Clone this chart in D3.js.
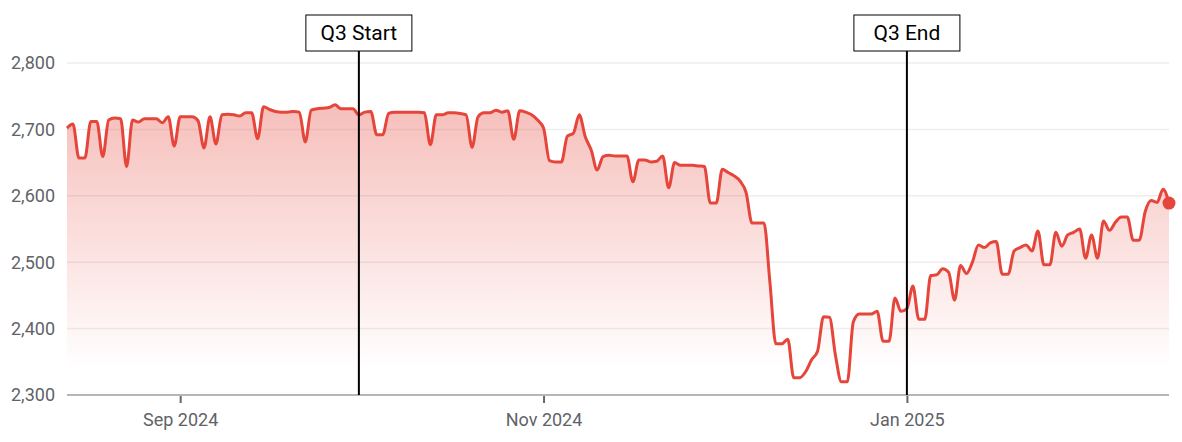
<!DOCTYPE html>
<html>
<head>
<meta charset="utf-8">
<script src="https://cdn.jsdelivr.net/npm/d3@7"></script>
<style>
  html, body { margin: 0; padding: 0; background: #fff; }
  svg { display: block; font-family: Roboto, "Noto Sans", sans-serif; }
</style>
</head>
<body>
<div id="chart"></div>
<script>
// daily series, first day and values
const startDay = "2024-08-13";
const values = [
  2702, 2708, 2657, 2657, 2712, 2712, 2659, 2714, 2717, 2716,
  2644, 2714, 2711, 2716, 2716, 2716, 2710, 2719, 2675, 2719,
  2719, 2719, 2713, 2672, 2719, 2678, 2722, 2723, 2722, 2720,
  2725, 2725, 2686, 2734, 2730, 2727, 2726, 2726, 2727, 2726,
  2681, 2729, 2731, 2732, 2733, 2737, 2731, 2731, 2731, 2722,
  2726, 2727, 2692, 2692, 2724, 2726, 2726, 2726, 2726, 2726,
  2725, 2677, 2722, 2722, 2725, 2725, 2724, 2722, 2673, 2719,
  2725, 2725, 2729, 2726, 2728, 2685, 2728, 2726, 2722, 2714,
  2702, 2653, 2651, 2651, 2690, 2694, 2722, 2689, 2669, 2639,
  2659, 2661, 2660, 2660, 2660, 2621, 2654, 2654, 2651, 2652,
  2660, 2612, 2650, 2646, 2646, 2646, 2645, 2644, 2589, 2589,
  2640, 2635, 2630, 2622, 2605, 2559, 2559, 2559, 2470, 2377,
  2377, 2384, 2326, 2326, 2335, 2353, 2366, 2418, 2417, 2360,
  2320, 2320, 2410, 2422, 2422, 2422, 2426, 2381, 2381, 2446,
  2426, 2430, 2464, 2414, 2414, 2480, 2481, 2490, 2485, 2443,
  2495, 2483, 2500, 2526, 2522, 2529, 2531, 2482, 2482, 2517,
  2522, 2526, 2517, 2547, 2496, 2496, 2545, 2524, 2541, 2545,
  2550, 2506, 2541, 2506, 2562, 2548, 2560, 2568, 2568, 2533,
  2533, 2576, 2593, 2590, 2610, 2589
];
const yTicks = [2300, 2400, 2500, 2600, 2700, 2800];
const xTicks = ["2024-09-01", "2024-11-01", "2025-01-01"];
const markers = [
  { label: "Q3 Start", date: "2024-10-01" },
  { label: "Q3 End", date: "2025-01-01" }
];

const W = 1182, H = 442;
const margin = { top: 63, right: 13, bottom: 47, left: 67 };
const RED = "#e5453a";

const parse = d3.timeParse("%Y-%m-%d");
const day0 = parse(startDay);
const data = values.map(function(v, i) {
  return { date: d3.timeDay.offset(day0, i), value: v };
});

const svg = d3.select("#chart").append("svg")
  .attr("width", W).attr("height", H);

const x = d3.scaleTime()
  .domain(d3.extent(data, d => d.date))
  .range([margin.left, W - margin.right]);
const y = d3.scaleLinear()
  .domain([2300, 2800])
  .range([H - margin.bottom, margin.top]);

// gradient for the area, fades out a bit above the baseline
const defs = svg.append("defs");
const grad = defs.append("linearGradient")
  .attr("id", "areaFill")
  .attr("gradientUnits", "userSpaceOnUse")
  .attr("x1", 0).attr("x2", 0)
  .attr("y1", y(2800)).attr("y2", y(2340));
grad.append("stop").attr("offset", "0%").attr("stop-color", RED).attr("stop-opacity", 0.4);
grad.append("stop").attr("offset", "100%").attr("stop-color", RED).attr("stop-opacity", 0);

// gridlines
svg.append("g").selectAll("line")
  .data(yTicks.filter(t => t > 2300))
  .enter().append("line")
  .attr("x1", margin.left).attr("x2", W - margin.right)
  .attr("y1", d => y(d)).attr("y2", d => y(d))
  .attr("stroke", "#eeeeee").attr("stroke-width", 1.5);

// y labels
svg.append("g").selectAll("text")
  .data(yTicks)
  .enter().append("text")
  .attr("x", 55)
  .attr("y", d => y(d))
  .attr("dy", "0.35em")
  .attr("text-anchor", "end")
  .attr("font-size", 18)
  .attr("fill", "#5f6368")
  .text(d => d3.format(",")(d));

const area = d3.area()
  .x(d => x(d.date))
  .y0(y(2300))
  .y1(d => y(d.value))
  .curve(d3.curveMonotoneX);
const line = d3.line()
  .x(d => x(d.date))
  .y(d => y(d.value))
  .curve(d3.curveMonotoneX);

svg.append("path").datum(data)
  .attr("d", area)
  .attr("fill", "url(#areaFill)");

// baseline
svg.append("line")
  .attr("x1", margin.left).attr("x2", W - margin.right)
  .attr("y1", y(2300)).attr("y2", y(2300))
  .attr("stroke", "#9e9e9e").attr("stroke-width", 1.5);

// x axis
const xAxis = d3.axisBottom(x)
  .tickValues(xTicks.map(parse))
  .tickFormat(d3.timeFormat("%b %Y"))
  .tickSize(7)
  .tickPadding(10);
const gx = svg.append("g")
  .attr("transform", "translate(0," + (y(2300) + 1) + ")")
  .call(xAxis);
gx.select(".domain").remove();
gx.selectAll(".tick line").attr("stroke", "#666").attr("stroke-width", 2);
gx.selectAll(".tick text")
  .attr("font-size", 18)
  .attr("font-family", "Roboto, sans-serif")
  .attr("fill", "#5f6368");

svg.append("path").datum(data)
  .attr("d", line)
  .attr("fill", "none")
  .attr("stroke", RED)
  .attr("stroke-width", 3)
  .attr("stroke-linejoin", "round");

// quarter markers
const boxW = 106, boxH = 36, boxTop = 15;
const mk = svg.append("g").selectAll("g")
  .data(markers)
  .enter().append("g");
mk.append("line")
  .attr("x1", d => x(parse(d.date))).attr("x2", d => x(parse(d.date)))
  .attr("y1", boxTop + boxH).attr("y2", y(2300))
  .attr("stroke", "#000").attr("stroke-width", 2);
mk.append("rect")
  .attr("x", d => x(parse(d.date)) - boxW / 2)
  .attr("y", boxTop)
  .attr("width", boxW).attr("height", boxH)
  .attr("fill", "#fff").attr("stroke", "#000").attr("stroke-width", 1);
mk.append("text")
  .attr("x", d => x(parse(d.date)))
  .attr("y", boxTop + boxH / 2)
  .attr("dy", "0.35em")
  .attr("text-anchor", "middle")
  .attr("font-size", 21)
  .attr("fill", "#000")
  .text(d => d.label);

// end dot
const last = data[data.length - 1];
svg.append("circle")
  .attr("cx", x(last.date)).attr("cy", y(last.value))
  .attr("r", 6.5)
  .attr("fill", RED);
</script>
</body>
</html>
